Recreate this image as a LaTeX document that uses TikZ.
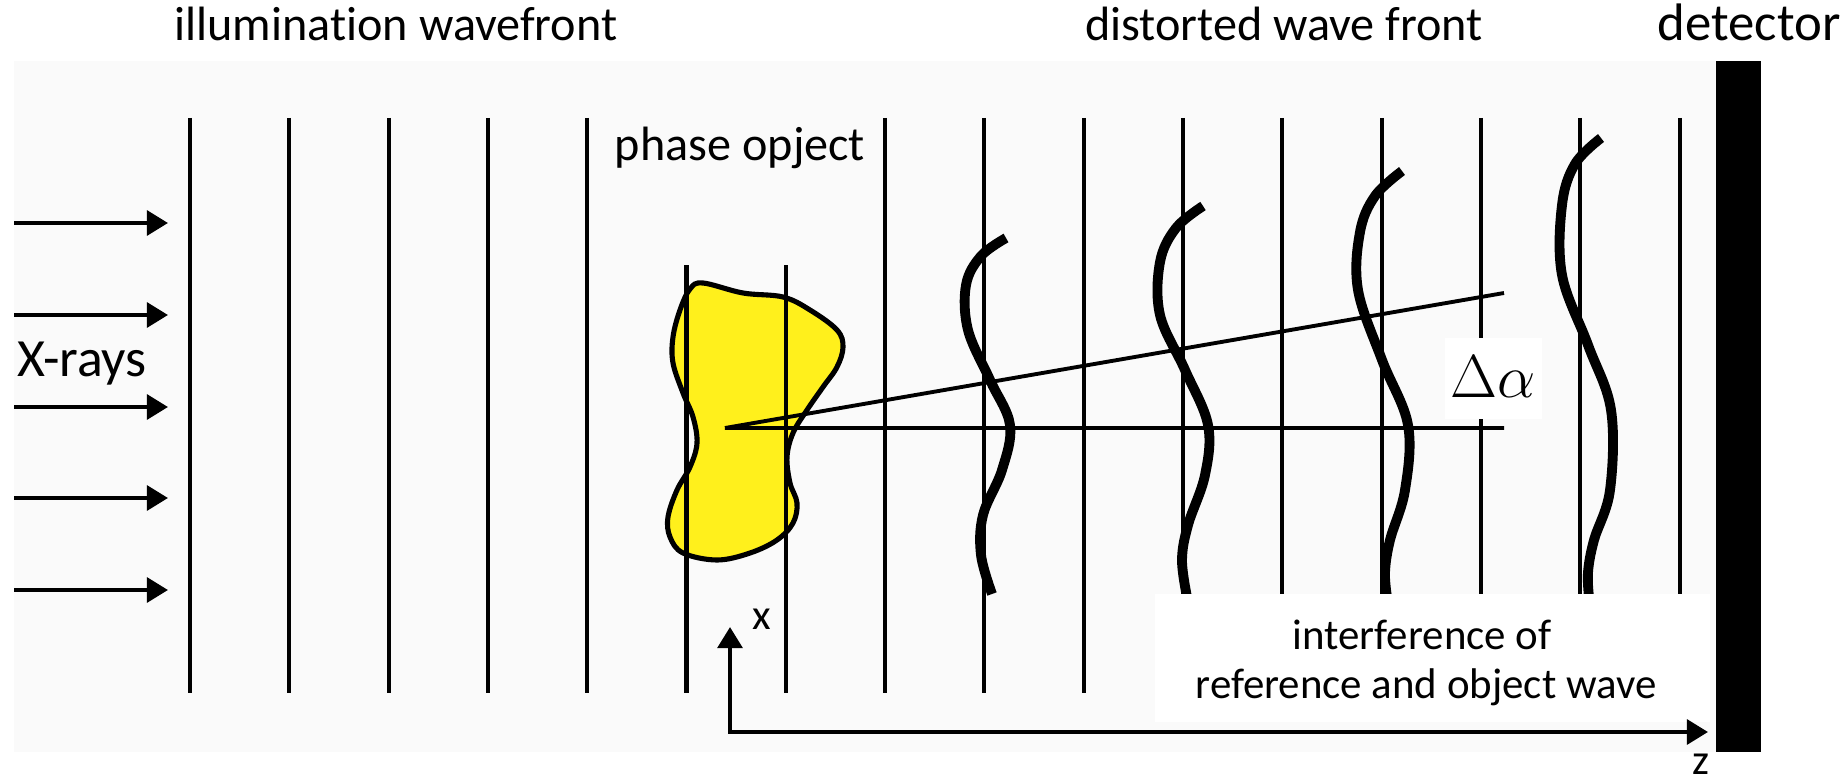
\documentclass[tikz,border=0pt]{standalone}
\usepackage{fontspec}
\setmainfont{Carlito}[Ligatures={NoCommon}]
\usetikzlibrary{arrows.meta}
\definecolor{panelgray}{RGB}{250,250,250}
\definecolor{blobyellow}{RGB}{255,240,28}
\begin{document}
\begin{tikzpicture}[x=0.01cm,y=-0.01cm,
  front/.style={line width=1.15pt},
  wave/.style={line width=2.8pt},
  ray/.style={line width=1.1pt},
  beam/.style={line width=1.25pt,-{Triangle[length=6pt,width=7pt]}},
  big/.style={font=\fontsize{13.7}{16}\selectfont, inner sep=0pt, anchor=base},
  small/.style={font=\fontsize{12.2}{14}\selectfont, inner sep=0pt, anchor=base},
  ]
\useasboundingbox (0,0) rectangle (1843,782);

% light panel and detector plate
\fill[panelgray] (14,61) rectangle (1716,752);
\node[fill=black, inner sep=0pt, minimum width=0.45cm, minimum height=6.91cm] (detector) at (1738.5,406.5) {};

% phase object
\draw[fill=blobyellow, line width=1.45pt] plot[smooth cycle, tension=0.6] coordinates {
  (703,283) (743,293) (783,297) (810,310) (837,330) (843,347) (837,367)
  (823,387) (807,410) (793,433) (787,457) (790,483) (797,503) (793,523)
  (777,540) (750,553) (717,560) (683,553) (670,537) (668,517) (677,490)
  (690,467) (697,443) (693,417) (683,393) (673,363) (673,337) (680,310) (690,289)};

% plane wave fronts
\foreach \i in {0,...,15} {
  \pgfmathsetmacro{\xx}{190+99.3*\i}
  \ifnum\i=5 \draw[front] (\xx,265) -- (\xx,693);
  \else\ifnum\i=6 \draw[front] (\xx,265) -- (\xx,693);
  \else \draw[front] (\xx,118) -- (\xx,693);
  \fi\fi
}

% distorted wave fronts
\draw[wave] plot[smooth, tension=0.6] coordinates {(1006,238) (981,256) (966,285) (968,330) (990,380) (1010,425) (1002,470) (983,515) (981,555) (992,594)};
\draw[wave] plot[smooth, tension=0.6] coordinates {(1203,206) (1176,228) (1160,262) (1160,315) (1185,370) (1208,425) (1205,475) (1188,525) (1182,560) (1187,597)};
\draw[wave] plot[smooth, tension=0.6] coordinates {(1402,171) (1375,196) (1360,232) (1358,290) (1382,360) (1408,425) (1405,490) (1390,540) (1385,572) (1387,597)};
\draw[wave] plot[smooth, tension=0.6] coordinates {(1601,138) (1575,164) (1562,205) (1562,275) (1588,345) (1611,410) (1610,490) (1594,540) (1588,572) (1589,597)};

% deflection angle
\coordinate (src) at (725,428);
\coordinate (straight) at (1504,428);
\coordinate (bent) at (1504,293);
\draw[ray] (straight) -- (src) -- (bent);
\fill[white] (1445,338) rectangle (1542,419);
\node[font=\fontsize{17}{20}\selectfont, inner sep=0pt] (dalpha) at (1493,377) {$\Delta\alpha$};

% interference label box
\fill[white] (1155,594) rectangle (1710,722);
\node[small] (interf1) at (1422,649) {interference of};
\node[small] (interf2) at (1426,698) {reference and object wave};

% incoming X-rays
\foreach \y in {223,315,407,498,590}
  \draw[beam] (14,\y) -- (168,\y);

% coordinate axes
\coordinate (xend) at (730,627);
\coordinate (orig) at (730,732);
\coordinate (zend) at (1708,732);
\draw[line width=1.25pt, {Triangle[length=6pt,width=7pt]}-{Triangle[length=6pt,width=7pt]}] (xend) -- (orig) -- (zend);
\node[small] (xlab) at (762,629) {x};
\node[small] (zlab) at (1701,774) {z};

% captions
\node[big] (illum) at (396,41) {illumination wavefront};
\node[big] (dist) at (1284,41) {distorted wave front};
\node[big, anchor=base east, font=\fontsize{15}{18}\selectfont] (det) at (1841,41) {detector};
\node[big] (phase) at (740,161) {phase opject};
\node[big, font=\fontsize{15.3}{18}\selectfont] (xrays) at (82,376) {X-rays};
\end{tikzpicture}
\end{document}
